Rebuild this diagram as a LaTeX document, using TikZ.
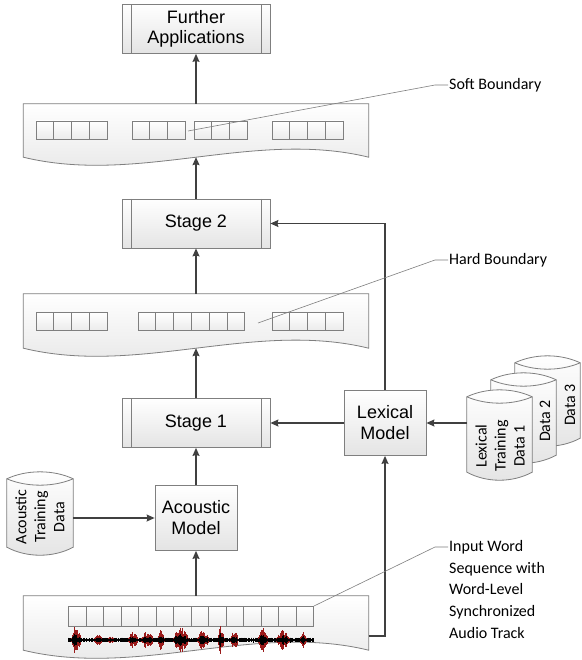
\documentclass[tikz,border=0pt]{standalone}
\usepackage{fontspec}
\setmainfont{Liberation Sans}
\newfontfamily\calfont{Carlito}
\usetikzlibrary{arrows.meta, calc, positioning}
\definecolor{cline}{HTML}{7F7F7F}
\definecolor{cfill}{HTML}{E4E4E4}
\definecolor{carrow}{HTML}{404040}
\definecolor{cwave}{HTML}{9A1B1B}

\tikzset{
  procbox/.style={draw=cline, line width=0.8pt, top color=white, bottom color=cfill,
    minimum width=148pt, minimum height=49pt, inner sep=0pt, align=center,
    font=\fontsize{18}{20.5}\selectfont,
    path picture={\draw[cline, line width=0.8pt]
      ([xshift=9pt]path picture bounding box.north west) -- ([xshift=9pt]path picture bounding box.south west)
      ([xshift=-9pt]path picture bounding box.north east) -- ([xshift=-9pt]path picture bounding box.south east);}},
  modelbox/.style={draw=cline, line width=0.8pt, top color=white, bottom color=cfill,
    minimum width=82pt, minimum height=65pt, inner sep=0pt, align=center,
    font=\fontsize{18}{21}\selectfont},
  docarea/.style={minimum width=345pt, minimum height=54pt, inner sep=0pt},
  docline/.style={draw=cline, line width=0.8pt, top color=white, bottom color=cfill},
  cellrow/.style={draw=cline, line width=0.8pt, top color=white, bottom color=cfill!70},
  cylarea/.style={minimum width=65pt, minimum height=90pt, inner sep=0pt},
  cylline/.style={draw=cline, line width=0.8pt, top color=white, bottom color=cfill},
  cyltext/.style={rotate=90, align=center, font=\calfont\fontsize{16}{19}\selectfont, inner sep=0pt},
  flow/.style={carrow, line width=1.1pt, -{Stealth[length=8pt, width=7pt, inset=1pt]}},
  leader/.style={cline, line width=0.6pt},
  note/.style={font=\calfont\fontsize{16}{21.7}\selectfont, inner sep=1pt, align=left},
}

% wavy-bottomed document outline round a docarea node
\newcommand\docshape[1]{%
  \draw[docline] (#1.south west) -- (#1.north west) -- (#1.north east) -- (#1.south east)
    .. controls ($(#1.south east)+(-115,-28)$) and ($(#1.south west)+(115,28)$) .. (#1.south west) -- cycle;}

% database cylinder round a cylarea node
\newcommand\cylshape[1]{%
  \draw[cylline] ($(#1.north west)+(0,7)$) .. controls +(20,-9.3) and +(-20,-9.3) .. ($(#1.north east)+(0,7)$)
    -- ($(#1.south east)+(0,-8)$) .. controls +(-20,10.7) and +(20,10.7) .. ($(#1.south west)+(0,-8)$) -- cycle;
  \draw[cline, line width=0.8pt] ($(#1.north west)+(0,7)$) .. controls +(20,8.5) and +(-20,8.5) .. ($(#1.north east)+(0,7)$);}

% row of #3 cells, top left corner at (#1,#2), cell size #4 x #5
\newcommand\cells[5]{%
  \draw[cellrow] (#1,#2) rectangle ++(#3*#4,#5);
  \foreach \k in {1,...,#3} {\draw[cline, line width=0.8pt] (#1+\k*#4,#2) -- ++(0,#5);}}

\begin{document}
\begin{tikzpicture}[x=1pt, y=-1pt]
\useasboundingbox (0,0) rectangle (581,660);
\fill[white] (0,0) rectangle (581,660);

% ---------------- main column ----------------
\node[procbox] (furtherapp) at (196,29) {Further\\Applications};

\node[docarea, minimum height=53pt] (softdoc) at (196,130.5) {};
\docshape{softdoc}
\cells{36}{121}{4}{17.8}{18}
\cells{132}{121}{3}{17.8}{18}
\cells{194}{121}{3}{17.8}{18}
\cells{272}{121}{4}{17.8}{18}

\node[procbox] (stagetwo) at (196,223.5) {Stage 2};

\node[docarea] (harddoc) at (196,321) {};
\docshape{harddoc}
\cells{36}{312}{4}{17.8}{18}
\cells{138}{312}{6}{17.8}{18}
\cells{272}{312}{4}{17.8}{18}

\node[procbox] (stageone) at (196,423) {Stage 1};

\node[modelbox] (acmodel) at (196,518) {Acoustic\\Model};
\node[modelbox] (lexmodel) at (385,423) {Lexical\\Model};

% input words with the audio track
\node[docarea] (inputdoc) at (196,623) {};
\docshape{inputdoc}
\cells{68.5}{606}{14}{17.5}{20}

\pgfmathsetseed{11}
\foreach \i in {0,...,490} {
  \pgfmathsetmacro\hh{0.9+1.6*rnd}
  \draw[black, line width=0.45pt] (68+0.5*\i,640-\hh) -- (68+0.5*\i,640+\hh);
}
\foreach \cx/\hw/\amp in {76/5/13, 98/4/5, 111/3/3, 133/5/7, 147/6/8, 161/3/12, 181/8/12,
    203/6/9, 221/3/14, 234/4/8, 263/5/12, 283/7/9, 303/3/7} {
  \pgfmathtruncatemacro\nsteps{2*\hw/0.45}
  \foreach \i in {0,...,\nsteps} {
    \pgfmathsetmacro\xx{\cx-\hw+0.45*\i}
    \pgfmathsetmacro\hh{\amp*(1-((\xx-\cx)/\hw)^2)*(0.3+0.7*rnd)+1}
    \draw[cwave, line width=0.45pt] (\xx,640-\hh) -- (\xx,640+\hh);
    \draw[black, line width=0.45pt] (\xx,640-0.5*\hh) -- (\xx,640+0.5*\hh);
  }
}

% ---------------- training data ----------------
\node[cylarea, minimum width=66pt, minimum height=83pt] (actrain) at (40,513.5) {};
\cylshape{actrain}
\node[cyltext] at (40,517) {Acoustic\\Training\\Data};

\node[cylarea] (lexdata3) at (547.5,401) {};
\cylshape{lexdata3}
\node[cyltext] at (570,405) {Data 3};
\node[cylarea] (lexdata2) at (523.5,418) {};
\cylshape{lexdata2}
\node[cyltext] at (545,421) {Data 2};
\node[cylarea] (lexdata1) at (499.5,435) {};
\cylshape{lexdata1}
\node[cyltext] at (500,446) {Lexical\\Training\\Data 1};

% ---------------- connectors ----------------
\draw[flow] (softdoc.north) -- (furtherapp.south);
\draw[flow] (stagetwo.north) -- (softdoc.south);
\draw[flow] (harddoc.north) -- (stagetwo.south);
\draw[flow] (stageone.north) -- (harddoc.south);
\draw[flow] (acmodel.north) -- (stageone.south);
\draw[flow] (inputdoc.north) -- (acmodel.south);
\draw[flow] (actrain.east |- acmodel.west) -- (acmodel.west);
\draw[flow] (lexmodel.west) -- (stageone.east);
\draw[flow] (lexdata1.west |- lexmodel.east) -- (lexmodel.east);
\draw[flow] (lexmodel.north) |- (stagetwo.east);
\coordinate (inputout) at (368.5,636);
\draw[flow] (inputout) -| (lexmodel.south);

% ---------------- callouts ----------------
\node[note, anchor=west] (softlbl) at (448,85) {Soft Boundary};
\coordinate (softpt) at (188,131);
\draw[leader] (softlbl.west) -- ++(-13,0) -- (softpt);

\node[note, anchor=west] (hardlbl) at (448,260) {Hard Boundary};
\coordinate (hardpt) at (258,323);
\draw[leader] (hardlbl.west) -- ++(-13,0) -- (hardpt);

\node[note, anchor=north west] (inputlbl) at (448,539)
  {Input Word\\Sequence with\\Word-Level\\Synchronized\\Audio Track};
\coordinate (inputpt) at (314,606);
\draw[leader] ([yshift=-8pt]inputlbl.north west) -- ++(-13,0) -- (inputpt);

\end{tikzpicture}
\end{document}
